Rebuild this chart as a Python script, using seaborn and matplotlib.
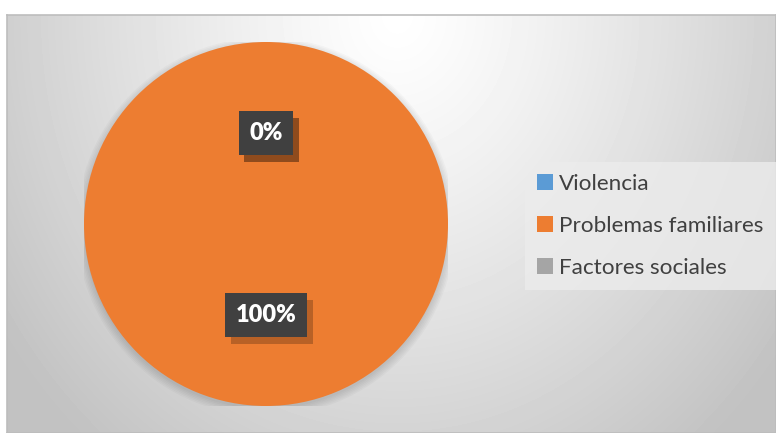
import numpy as np
import matplotlib
matplotlib.use("Agg")
import matplotlib.pyplot as plt
import matplotlib.patheffects as pe
from matplotlib.patches import Circle, Patch
import seaborn as sns

# data
categories = ["Violencia", "Problemas familiares", "Factores sociales"]
values = [0, 100, 0]
colors = ["#5b9bd5", "#ed7d31", "#a5a5a5"]

sns.set_theme(style="white")
plt.rcParams["font.family"] = ["Lato", "DejaVu Sans"]

W, H = 776, 433
fig = plt.figure(figsize=(W / 100, H / 100), dpi=100)
fig.patch.set_facecolor("white")

# chart area with grey radial gradient
top = 15
bg = fig.add_axes([7 / W, 0, 1 - 7 / W, (H - top) / H])
yy, xx = np.mgrid[0:H - top, 0:W - 7]
d = np.sqrt(((xx - 390) / 480.0) ** 2 + ((yy) / 560.0) ** 2)
shade = 1.0 - 0.24 * np.clip(d, 0, 1) ** 1.2
bg.imshow(shade, cmap="gray", vmin=0, vmax=1, aspect="auto",
          extent=[0, 1, 0, 1], origin="upper")
bg.set_xticks([])
bg.set_yticks([])
for s in bg.spines.values():
    s.set_color("#bdbdbd")
    s.set_linewidth(1.2)

# pie axes: centre (266, 224), radius ~181 px
r = 182
cx, cy = 266, 224
ax = fig.add_axes([(cx - r) / W, (H - cy - r) / H, 2 * r / W, 2 * r / H])

wedges, texts, autotexts = ax.pie(
    values, colors=colors, startangle=90, counterclock=False,
    autopct="%1.0f%%", pctdistance=0.5, radius=1.0,
    wedgeprops=dict(linewidth=0),
    textprops=dict(color="white", fontsize=17, fontweight="heavy",
                   family=["Lato", "DejaVu Sans"]),
)
# soft shadow under the pie
for i in range(6):
    ax.add_patch(Circle((0.0, -0.015), 1.0 + 0.008 * i, color="black",
                        alpha=0.025, lw=0, zorder=0))
ax.set_xlim(-1, 1)
ax.set_ylim(-1, 1)
ax.axis("off")

for t in autotexts:
    t.set_bbox(dict(boxstyle="square,pad=0.45", facecolor="#404040",
                    edgecolor="none"))
    t.get_bbox_patch().set_path_effects(
        [pe.SimplePatchShadow(offset=(4, -5), shadow_rgbFace="#000000", alpha=0.22),
         pe.Normal()])
    t.set_zorder(5)

# legend
handles = [Patch(facecolor=c, edgecolor="none") for c in colors]
leg = fig.legend(handles, categories, loc="center left",
                 bbox_to_anchor=(525 / W, (H - 226) / H),
                 frameon=True, fontsize=16.2, handlelength=0.7,
                 handleheight=0.7, handletextpad=0.25, labelspacing=0.98,
                 borderpad=0.55, borderaxespad=0, fancybox=False)
leg.get_frame().set_facecolor("#ececec")
leg.get_frame().set_edgecolor("none")
leg.get_frame().set_alpha(0.8)
for t in leg.get_texts():
    t.set_color("#404040")

fig.savefig("out.png", dpi=100)
